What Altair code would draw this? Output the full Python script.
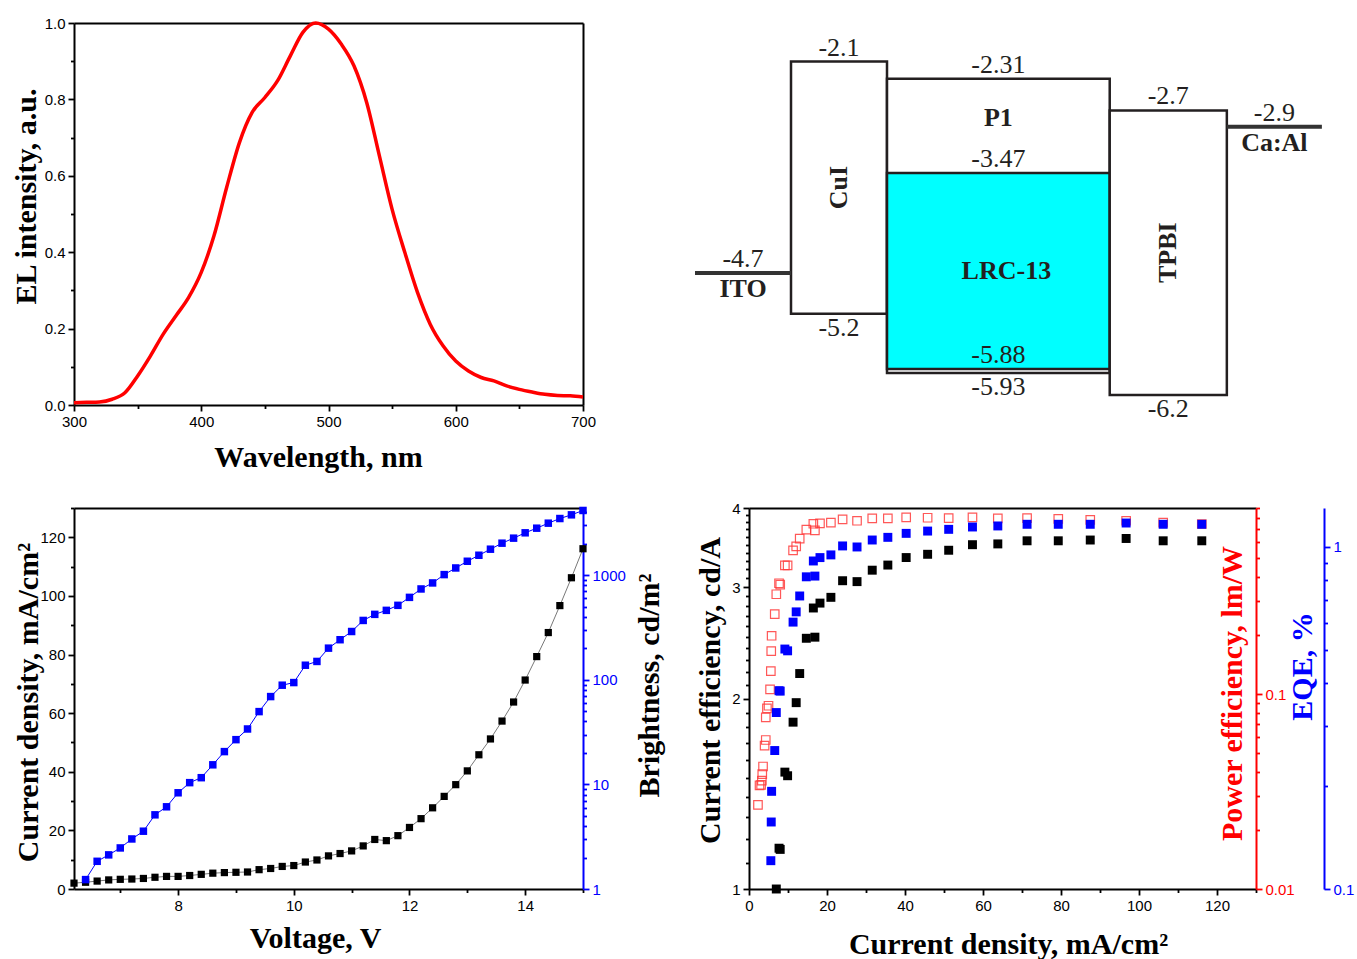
import altair as alt
import pandas as pd

# ---------------- EL spectrum ----------------
wavelength = [300, 310, 320, 330, 340, 350, 360, 370, 380, 390,
              400, 410, 420, 430, 440, 450, 460, 470, 480, 490,
              500, 510, 520, 530, 540, 550, 560, 570, 580, 590,
              600, 610, 620, 630, 640, 650, 660, 670, 680, 690, 700]
el_intensity = [0.006, 0.007, 0.008, 0.015, 0.032, 0.076, 0.128, 0.185, 0.233, 0.281,
                0.347, 0.443, 0.570, 0.687, 0.766, 0.805, 0.849, 0.914, 0.976, 1.000,
                0.984, 0.945, 0.888, 0.792, 0.652, 0.512, 0.399, 0.294, 0.211, 0.155,
                0.115, 0.089, 0.072, 0.063, 0.050, 0.041, 0.034, 0.028, 0.025, 0.024, 0.021]

# ---------------- energy diagram ----------------
layer_names = ["CuI", "P1", "LRC-13", "TPBI"]
lumo = [-2.1, -2.31, -3.47, -2.7]
homo = [-5.2, -5.93, -5.88, -6.2]
layer_left = [1.0, 2.0, 2.0, 4.32]
layer_right = [2.0, 4.32, 4.32, 5.54]
electrodes = ["ITO", "Ca:Al"]
work_function = [-4.7, -2.9]
electrode_left = [0.0, 5.54]
electrode_right = [1.0, 6.53]

# ---------------- device data ----------------
voltage = [6.2, 6.4, 6.6, 6.8, 7.0, 7.2, 7.4, 7.6, 7.8, 8.0,
           8.2, 8.4, 8.6, 8.8, 9.0, 9.2, 9.4, 9.6, 9.8, 10.0,
           10.2, 10.4, 10.6, 10.8, 11.0, 11.2, 11.4, 11.6, 11.8, 12.0,
           12.2, 12.4, 12.6, 12.8, 13.0, 13.2, 13.4, 13.6, 13.8, 14.0,
           14.2, 14.4, 14.6, 14.8, 15.0]
current_density = [2.0, 2.3, 2.7, 3.1, 3.3, 3.4, 3.6, 4.0, 4.3, 4.3,
                   4.6, 5.0, 5.4, 5.6, 5.7, 5.8, 6.6, 7.0, 7.7, 8.0,
                   9.2, 9.9, 11.3, 12.1, 13.0, 14.7, 16.9, 16.5, 18.2, 21.0,
                   24.0, 27.7, 31.6, 35.6, 40.3, 45.8, 51.2, 57.3, 63.8, 71.3,
                   79.3, 87.5, 96.7, 106.2, 116.1]
brightness = [None, 1.23, 1.84, 2.12, 2.47, 3.01, 3.57, 5.12, 6.11, 8.32,
              10.4, 11.6, 15.4, 20.6, 26.8, 33.9, 49.7, 69.2, 88.9, 94.2,
              138, 150, 201, 242, 290, 370, 423, 462, 516, 615,
              740, 845, 1015, 1175, 1362, 1555, 1776, 2028, 2265, 2548,
              2821, 3150, 3490, 3785, 4167]
current_eff = [None, None, None, None, None, None, None, None, None, None,
               None, None, None, None, None, None, None, 1.00, 1.16, 1.155,
               1.53, 1.51, 1.835, 1.97, 2.19, 2.49, 2.50, 2.78, 2.83, 2.89,
               3.07, 3.06, 3.19, 3.25, 3.34, 3.38, 3.43, 3.50, 3.51, 3.55,
               3.55, 3.56, 3.58, 3.55, 3.55]
eqe = [None, None, None, None, None, None, None, None, None, None,
       None, None, None, 0.121, 0.157, 0.193, 0.254, 0.328, 0.380, 0.379,
       0.503, 0.497, 0.603, 0.646, 0.719, 0.818, 0.822, 0.910, 0.931, 0.948,
       1.007, 1.000, 1.048, 1.067, 1.096, 1.113, 1.126, 1.144, 1.152, 1.165,
       1.165, 1.165, 1.175, 1.165, 1.165]
power_eff = [None, 0.0270, 0.0340, 0.0342, 0.0360, 0.0388, 0.0425, 0.0544, 0.0581, 0.0759,
             0.0845, 0.0871, 0.1056, 0.1311, 0.166, 0.199, 0.257, 0.325, 0.370, 0.364,
             0.4575, 0.4575, 0.546, 0.572, 0.627, 0.697, 0.691, 0.747, 0.751, 0.757,
             0.787, 0.774, 0.796, 0.796, 0.805, 0.802, 0.799, 0.805, 0.796, 0.799,
             0.792, 0.783, 0.774, 0.757, 0.745]

BLUE = "#0000ff"
RED = "#ff0000"
INK = "#231f20"


def ax(orient, values=None, *, tick=6, color="black", labels=True, fmt=None, title=None,
       title_color="black", tx=0, ty=0, offset=0, domain=True, ticks=True):
    kw = dict(orient=orient, tickSize=tick, labels=labels, domain=domain, ticks=ticks,
              domainColor=color, tickColor=color, labelColor=color, offset=offset,
              labelFlush=False, labelOverlap=False, grid=False)
    if values is not None:
        kw["values"] = values
    if fmt:
        kw["format"] = fmt
    if title:
        kw.update(title=title, titleColor=title_color, titleX=tx, titleY=ty,
                  titleAlign="center", titleBaseline="middle",
                  titleAngle=0 if orient in ("bottom", "top") else 270)
    else:
        kw["title"] = None
    return alt.Axis(**kw)


def border(orient):
    return ax(orient, ticks=False, labels=False)


# ================= panel 1: EL spectrum =================
df_el = pd.DataFrame({"wl": wavelength, "el": el_intensity})
xs1 = alt.Scale(domain=[300, 700], nice=False, zero=False)
ys1 = alt.Scale(domain=[0, 1], nice=False)
el_line = alt.Chart(df_el).mark_line(color=RED, strokeWidth=3.5, interpolate="monotone").encode(
    x=alt.X("wl:Q", scale=xs1, axis=ax("bottom", [300, 400, 500, 600, 700], title="Wavelength, nm", tx=244, ty=52)),
    y=alt.Y("el:Q", scale=ys1, axis=ax("left", [0, 0.2, 0.4, 0.6, 0.8, 1.0], fmt=".1f",
                                       title="EL intensity, a.u.", tx=-48, ty=173)),
)
el_minor = alt.Chart(df_el).mark_line(opacity=0).encode(
    x=alt.X("wl:Q", scale=xs1, axis=ax("bottom", [350, 450, 550, 650], tick=3.5, labels=False, domain=False)),
    y=alt.Y("el:Q", scale=ys1, axis=ax("left", [0.1, 0.3, 0.5, 0.7, 0.9], tick=3.5, labels=False, domain=False)),
)
el_frame = alt.Chart(df_el).mark_line(opacity=0).encode(
    x=alt.X("wl:Q", scale=xs1, axis=border("top")),
    y=alt.Y("el:Q", scale=ys1, axis=border("right")),
)
p1 = alt.layer(el_minor, el_frame, el_line).resolve_axis(x="independent", y="independent").properties(
    width=509, height=382)

# ================= panel 2: energy diagram =================
centers = [(a + b) / 2 for a, b in zip(layer_left, layer_right)]
e_centers = [(a + b) / 2 for a, b in zip(electrode_left, electrode_right)]
df_layers = pd.DataFrame({"layer": layer_names, "lumo": lumo, "homo": homo,
                          "x0": layer_left, "x1": layer_right, "xc": centers})
df_layers["mid"] = (df_layers["lumo"] + df_layers["homo"]) / 2
df_elec = pd.DataFrame({"name": electrodes, "wf": work_function,
                        "x0": electrode_left, "x1": electrode_right, "xc": e_centers})
ex = alt.Scale(domain=[0.5625, 5.84375], nice=False, zero=False)
ey = alt.Scale(domain=[-6.323, -1.625], nice=False, zero=False)

boxes = alt.Chart(df_layers).mark_rect(stroke=INK, strokeWidth=2.5).encode(
    x=alt.X("x0:Q", scale=ex, axis=None), x2="x1:Q",
    y=alt.Y("lumo:Q", scale=ey, axis=None), y2="homo:Q",
    fill=alt.condition(alt.datum.layer == "LRC-13", alt.value("#00ffff"), alt.value("#ffffff")),
)
rules = alt.Chart(df_elec).mark_rule(strokeWidth=4, color="#333333").encode(
    x=alt.X("x0:Q", scale=ex, axis=None), x2="x1:Q",
    y=alt.Y("wf:Q", scale=ey, axis=None),
)
above = pd.DataFrame({"x": centers + [centers[2]] + e_centers,
                      "e": lumo + [homo[2]] + work_function})
above["txt"] = above["e"].map(lambda v: f"{v:g}")
below = pd.DataFrame({"x": [centers[0], centers[1], centers[3]],
                      "e": [homo[0], homo[1], homo[3]]})
below["txt"] = below["e"].map(lambda v: f"{v:g}")

num_style = dict(font="Liberation Serif", fontSize=26, color=INK, baseline="middle", align="center")
name_style = dict(font="Liberation Serif", fontSize=26, fontWeight="bold", color=INK,
                  baseline="middle", align="center")
t_above = alt.Chart(above).mark_text(dy=-14, **num_style).encode(
    x=alt.X("x:Q", scale=ex, axis=None), y=alt.Y("e:Q", scale=ey, axis=None), text="txt:N")
t_below = alt.Chart(below).mark_text(dy=14, **num_style).encode(
    x=alt.X("x:Q", scale=ex, axis=None), y=alt.Y("e:Q", scale=ey, axis=None), text="txt:N")
t_rot = alt.Chart(df_layers).transform_filter(
    "datum.layer == 'CuI' || datum.layer == 'TPBI'").mark_text(angle=270, **name_style).encode(
    x=alt.X("xc:Q", scale=ex, axis=None), y=alt.Y("mid:Q", scale=ey, axis=None), text="layer:N")
t_lrc = alt.Chart(df_layers).transform_filter("datum.layer == 'LRC-13'").mark_text(dx=8, **name_style).encode(
    x=alt.X("xc:Q", scale=ex, axis=None), y=alt.Y("mid:Q", scale=ey, axis=None), text="layer:N")
df_p1 = pd.DataFrame({"x": [centers[1]], "e": [(lumo[1] + lumo[2]) / 2], "txt": [layer_names[1]]})
t_p1 = alt.Chart(df_p1).mark_text(dy=-8, **name_style).encode(
    x=alt.X("x:Q", scale=ex, axis=None), y=alt.Y("e:Q", scale=ey, axis=None), text="txt:N")
t_elec = alt.Chart(df_elec).mark_text(dy=16, **name_style).encode(
    x=alt.X("xc:Q", scale=ex, axis=None), y=alt.Y("wf:Q", scale=ey, axis=None), text="name:N")
p2 = alt.layer(boxes, rules, t_above, t_below, t_rot, t_lrc, t_p1, t_elec).properties(width=507, height=382)

# ================= panel 3: J-V-L =================
df_jv = pd.DataFrame({"V": voltage, "J": current_density, "L": brightness})
df_l = df_jv.dropna(subset=["L"])
xs3 = alt.Scale(domain=[6.2, 15], nice=False, zero=False)
ys3 = alt.Scale(domain=[0, 130], nice=False)
ls3 = alt.Scale(type="log", domain=[1, 4400], nice=False)
l_minor = [k * 10 ** e for e in range(0, 4) for k in range(2, 10) if k * 10 ** e <= 4400]

j_line = alt.Chart(df_jv).mark_line(color="#555555", strokeWidth=0.8).encode(
    x=alt.X("V:Q", scale=xs3, axis=ax("bottom", [8, 10, 12, 14], title="Voltage, V", tx=241, ty=49)),
    y=alt.Y("J:Q", scale=ys3, axis=ax("left", [0, 20, 40, 60, 80, 100, 120],
                                      title="Current density, mA/cm²", tx=-46, ty=194)),
)
j_pts = alt.Chart(df_jv).mark_point(shape="square", filled=True, size=52, color="black", opacity=1).encode(
    x=alt.X("V:Q", scale=xs3, axis=ax("bottom", [7, 9, 11, 13, 15], tick=3.5, labels=False, domain=False)),
    y=alt.Y("J:Q", scale=ys3, axis=ax("left", [10, 30, 50, 70, 90, 110, 130], tick=3.5, labels=False,
                                      domain=False)),
)
l_line = alt.Chart(df_l).mark_line(color=BLUE, strokeWidth=1).encode(
    x=alt.X("V:Q", scale=xs3, axis=border("top")),
    y=alt.Y("L:Q", scale=ls3, axis=ax("right", [1, 10, 100, 1000], color=BLUE, fmt="d",
                                      title="Brightness, cd/m²", tx=66, ty=177)),
)
l_pts = alt.Chart(df_l).mark_point(shape="square", filled=True, size=56, color=BLUE, opacity=1).encode(
    x=alt.X("V:Q", scale=xs3, axis=None),
    y=alt.Y("L:Q", scale=ls3, axis=ax("right", l_minor, color=BLUE, tick=3.5, labels=False, domain=False)),
)
p3 = alt.layer(j_line, j_pts, l_line, l_pts).resolve_scale(y="independent").resolve_axis(
    x="independent", y="independent").properties(width=509, height=381)

# ================= panel 4: efficiencies =================
df_eff = pd.DataFrame({"J": current_density, "CE": current_eff, "EQE": eqe, "PE": power_eff})
df_ce = df_eff.dropna(subset=["CE"])
df_eqe = df_eff.dropna(subset=["EQE"])
df_pe = df_eff.dropna(subset=["PE"])
xs4 = alt.Scale(domain=[0, 130], nice=False, zero=False)
ce_s = alt.Scale(type="log", domain=[1, 4], nice=False)
pe_s = alt.Scale(type="log", domain=[0.01, 0.9], nice=False)
eqe_s = alt.Scale(type="log", domain=[0.1, 1.3], nice=False)
ce_minor = [round(a + b / 10, 1) for a in (1, 2, 3) for b in range(1, 10)]
pe_minor = [round(k * 0.01, 2) for k in range(2, 10)] + [round(k * 0.1, 1) for k in range(2, 10)]
eqe_minor = [round(k * 0.1, 1) for k in range(2, 10)]

pe_pts = alt.Chart(df_pe).mark_point(shape="square", filled=False, size=72, color="#ff3b3b",
                                     strokeWidth=1.2, opacity=0.85).encode(
    x=alt.X("J:Q", scale=xs4, axis=ax("bottom", [0, 20, 40, 60, 80, 100, 120],
                                      title="Current density, mA/cm²", tx=259, ty=55)),
    y=alt.Y("PE:Q", scale=pe_s, axis=ax("right", [0.01, 0.1], color=RED, fmt="~g",
                                        title="Power efficiency, lm/W", title_color=RED, tx=-24, ty=185)),
)
pe_inv = alt.Chart(df_pe).mark_point(opacity=0).encode(
    x=alt.X("J:Q", scale=xs4, axis=ax("bottom", [10, 30, 50, 70, 90, 110, 130], tick=3.5, labels=False,
                                      domain=False)),
    y=alt.Y("PE:Q", scale=pe_s, axis=ax("right", pe_minor, color=RED, tick=3.5, labels=False, domain=False)),
)
eqe_pts = alt.Chart(df_eqe).mark_point(shape="square", filled=True, size=80, color=BLUE, opacity=1).encode(
    x=alt.X("J:Q", scale=xs4, axis=border("top")),
    y=alt.Y("EQE:Q", scale=eqe_s, axis=ax("right", [0.1, 1], color=BLUE, fmt="~g", offset=68,
                                          title="EQE, %", title_color=BLUE, tx=-22, ty=158)),
)
eqe_inv = alt.Chart(df_eqe).mark_point(opacity=0).encode(
    x=alt.X("J:Q", scale=xs4, axis=None),
    y=alt.Y("EQE:Q", scale=eqe_s, axis=ax("right", eqe_minor, color=BLUE, tick=3.5, labels=False,
                                          domain=False, offset=68)),
)
ce_pts = alt.Chart(df_ce).mark_point(shape="square", filled=True, size=80, color="black", opacity=1).encode(
    x=alt.X("J:Q", scale=xs4, axis=None),
    y=alt.Y("CE:Q", scale=ce_s, axis=ax("left", [1, 2, 3, 4], fmt="d",
                                        title="Current efficiency, cd/A", tx=-39, ty=182)),
)
ce_inv = alt.Chart(df_ce).mark_point(opacity=0).encode(
    x=alt.X("J:Q", scale=xs4, axis=None),
    y=alt.Y("CE:Q", scale=ce_s, axis=ax("left", ce_minor, tick=3.5, labels=False, domain=False)),
)
p4 = alt.layer(pe_pts, pe_inv, eqe_pts, eqe_inv, ce_pts, ce_inv).resolve_scale(y="independent").resolve_axis(
    x="independent", y="independent").properties(width=507, height=381)

chart = alt.concat(p1, p2, p3, p4, columns=2, spacing=alt.RowColnumber(row=103, column=166),
                   bounds="flush").properties(
    padding={"left": 10, "top": 15, "right": 0, "bottom": 0}, background="white"
).configure_view(stroke="transparent").configure_axis(
    labelFont="Liberation Sans", labelFontSize=15, labelPadding=3,
    titleFont="Liberation Serif", titleFontSize=30, titleFontWeight="bold",
    domainWidth=2, tickWidth=1.8,
)

chart.save("out.html", embed_options={"renderer": "svg", "actions": False})
